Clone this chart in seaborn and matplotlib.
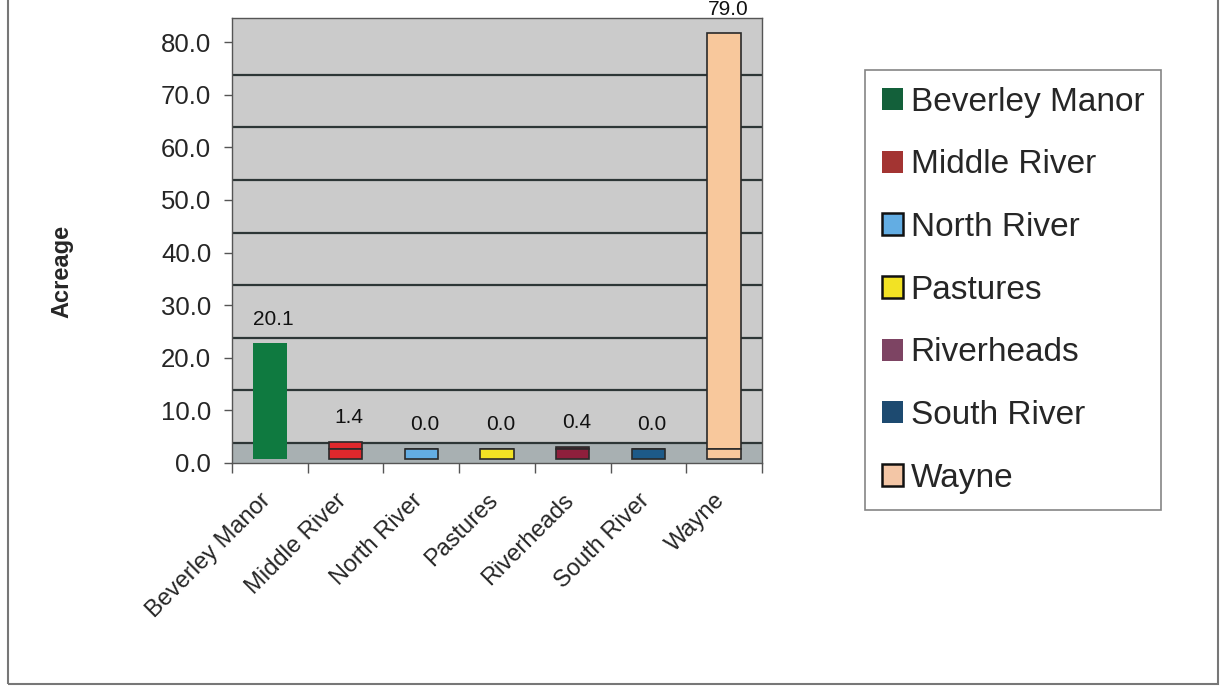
import matplotlib
matplotlib.use("Agg")
import matplotlib.pyplot as plt
import matplotlib.transforms as mtransforms
import numpy as np
import seaborn as sns

# Data
districts = ["Beverley Manor", "Middle River", "North River", "Pastures",
             "Riverheads", "South River", "Wayne"]
acreage = [20.1, 1.4, 0.0, 0.0, 0.4, 0.0, 79.0]
bar_colors = ["#0f7a40", "#e0282c", "#63ade3", "#f2e224",
              "#8e1f3c", "#1d5a88", "#f8c89c"]
legend_colors = ["#13603a", "#a33432", "#63ade3", "#f2e224",
                 "#7d4463", "#1d4a70", "#f3c6a6"]
legend_edged = [False, False, True, True, False, False, True]
yticks = [0, 10, 20, 30, 40, 50, 60, 70, 80]

sns.set_style("white")
plt.rcParams["font.family"] = ["Liberation Sans", "DejaVu Sans"]

fig = plt.figure(figsize=(12.25, 6.88), dpi=100)
ax = fig.add_axes([232 / 1225, 1 - 463 / 688, 530 / 1225, 445 / 688])

depth = 3.8   # floor of the old 3D spreadsheet chart
base = 0.76   # where the columns stand on the floor
slab = 1.9    # visible thickness of each column base

# columns (seaborn), then lifted onto the floor
sns.barplot(x=districts, y=acreage, hue=districts, palette=bar_colors,
            width=0.44, legend=False, saturation=1, ax=ax, zorder=3)
value_patches = [p for c in ax.containers for p in c.patches]
for p in value_patches:
    p.set_y(base + slab)
    p.set_edgecolor("#2a2a2a")
    p.set_linewidth(1.2)
value_patches[0].set_edgecolor("none")

# column bases so zero-valued columns are still visible
x = np.arange(len(districts))
bases = ax.bar(x, [slab] * len(districts), bottom=base, width=0.44,
               color=bar_colors, edgecolor="#2a2a2a", lw=1.2, zorder=3)
bases.patches[0].set_edgecolor("none")

ax.set_facecolor("#cbcbcb")
ax.axhspan(0, depth, color="#a8b0b2", zorder=0)
for t in yticks[:-1]:
    ax.axhline(t + depth, color="#2d3636", lw=1.6, zorder=1)

for xi, v in zip(x, acreage):
    ax.text(xi + 0.05, v + base + slab + 4.6, f"{v:.1f}", ha="center", va="center",
            fontsize=15, color="#111111", clip_on=False)

ax.set_xlim(-0.5, len(districts) - 0.5)
ax.set_ylim(0, 84.6)
ax.set_yticks(yticks)
ax.set_yticklabels([f"{t:.1f}" for t in yticks], fontsize=18.5)
ax.tick_params(axis="y", length=6, width=1, color="#555555", direction="out", pad=9, left=True)
ax.set_xticks(x)
ax.set_xticklabels(districts, rotation=45, ha="right", va="top",
                   rotation_mode="anchor", fontsize=17)
ax.tick_params(axis="x", length=0, pad=19)
ax.set_xticks(np.arange(-0.5, len(districts)), minor=True)
ax.tick_params(axis="x", which="minor", length=7, width=1, color="#555555", bottom=True)
offset = mtransforms.ScaledTranslation(-0.1, 0, fig.dpi_scale_trans)
for lab in ax.get_xticklabels():
    lab.set_transform(lab.get_transform() + offset)

ax.set_ylabel("Acreage", fontsize=17, fontweight="bold")
ax.yaxis.set_label_coords(-0.3, 0.43)
ax.set_xlabel("")
for side in ["left", "right", "top", "bottom"]:
    ax.spines[side].set_color("#555555")
    ax.spines[side].set_linewidth(1.0)

# legend
handles = [plt.Rectangle((0, 0), 1, 1, facecolor=c,
                         edgecolor="#111111" if e else c, lw=1.8 if e else 0)
           for c, e in zip(legend_colors, legend_edged)]
leg = fig.legend(handles, districts, loc="upper left",
                 bbox_to_anchor=(865 / 1225, 1 - 70 / 688), frameon=True,
                 fontsize=24, handlelength=0.63, handleheight=0.63,
                 handletextpad=0.24, labelspacing=0.95, borderpad=0.5,
                 fancybox=False, borderaxespad=0)
leg.get_frame().set_edgecolor("#666666")
leg.get_frame().set_linewidth(1.2)

# outer frame of the scanned chart
fig.patches.append(plt.Rectangle((8 / 1225, 4 / 688), 1210 / 1225, 700 / 688,
                                 transform=fig.transFigure, fill=False,
                                 edgecolor="#777777", lw=1.5))

fig.savefig("out.png", dpi=100)
